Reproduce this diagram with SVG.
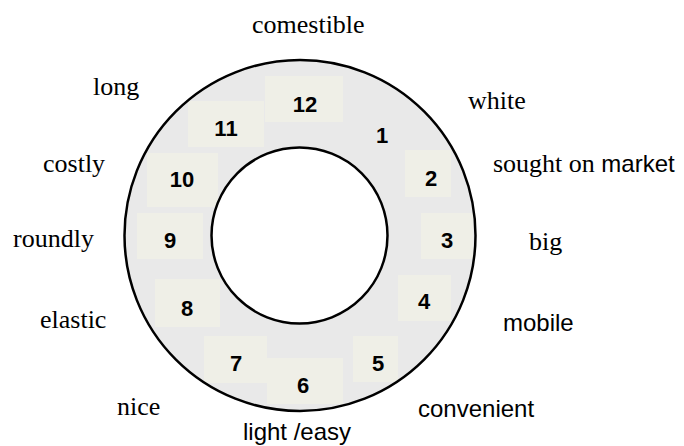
<svg xmlns="http://www.w3.org/2000/svg" width="684" height="446" viewBox="0 0 684 446">
<style>
.ser{font-family:"Liberation Serif","Times New Roman",serif;font-size:26px;fill:#000}
.san{font-family:"Liberation Sans",Arial,sans-serif;font-size:24px;fill:#000}
.num{font-family:"Liberation Sans",Arial,sans-serif;font-size:22px;font-weight:bold;fill:#000;text-anchor:middle}
.box{fill:#efefe7}
.ring{stroke:#000;stroke-width:2.5}
</style>
<defs>
<clipPath id="outerClip"><circle cx="300" cy="235.5" r="175.5"/></clipPath>
</defs>
<rect width="684" height="446" fill="#fff"/>
<g id="ring-fill">
<circle cx="300" cy="235.5" r="175.5" fill="#e9e9e9"/>
</g>
<g id="segments" clip-path="url(#outerClip)">
<g id="seg1"><text class="num" x="382" y="143">1</text></g>
<g id="seg2"><rect class="box" x="405" y="150" width="46" height="47"/><text class="num" x="431" y="186">2</text></g>
<g id="seg3"><rect class="box" x="421" y="213" width="52" height="46"/><text class="num" x="447" y="248">3</text></g>
<g id="seg4"><rect class="box" x="398" y="275" width="53" height="46"/><text class="num" x="424" y="309">4</text></g>
<g id="seg5"><rect class="box" x="353" y="336" width="45" height="46"/><text class="num" x="378" y="371">5</text></g>
<g id="seg6"><rect class="box" x="267" y="358" width="76" height="46"/><text class="num" x="303" y="393">6</text></g>
<g id="seg7"><rect class="box" x="204" y="336" width="63" height="47"/><text class="num" x="236" y="371">7</text></g>
<g id="seg8"><rect class="box" x="155" y="279" width="65" height="48"/><text class="num" x="187" y="316">8</text></g>
<g id="seg9"><rect class="box" x="137" y="213" width="66" height="46"/><text class="num" x="170" y="248">9</text></g>
<g id="seg10"><rect class="box" x="147" y="153" width="71" height="54"/><text class="num" x="182" y="187">10</text></g>
<g id="seg11"><rect class="box" x="188" y="101" width="76" height="46"/><text class="num" x="226" y="136">11</text></g>
<g id="seg12"><rect class="box" x="265" y="76" width="78" height="46"/><text class="num" x="305" y="112">12</text></g>
</g>
<g id="ring-lines">
<circle class="ring" cx="300" cy="235.5" r="175.5" fill="none"/>
<circle class="ring" cx="299.5" cy="235.5" r="88" fill="#fff"/>
</g>
<g id="labels">
<g id="lab-comestible"><text class="ser" x="252" y="33">comestible</text></g>
<g id="lab-white"><text class="ser" x="468" y="109">white</text></g>
<g id="lab-sought"><text class="ser" x="493" y="172">sought on <tspan class="san">market</tspan></text></g>
<g id="lab-big"><text class="ser" x="529" y="250">big</text></g>
<g id="lab-mobile"><text class="san" x="503" y="331">mobile</text></g>
<g id="lab-convenient"><text class="san" x="418" y="417">convenient</text></g>
<g id="lab-light"><text class="san" x="243" y="440">light /easy</text></g>
<g id="lab-nice"><text class="ser" x="117" y="415">nice</text></g>
<g id="lab-elastic"><text class="ser" x="40" y="328">elastic</text></g>
<g id="lab-roundly"><text class="ser" x="13" y="247">roundly</text></g>
<g id="lab-costly"><text class="ser" x="43" y="172">costly</text></g>
<g id="lab-long"><text class="ser" x="93" y="95">long</text></g>
</g>
</svg>
